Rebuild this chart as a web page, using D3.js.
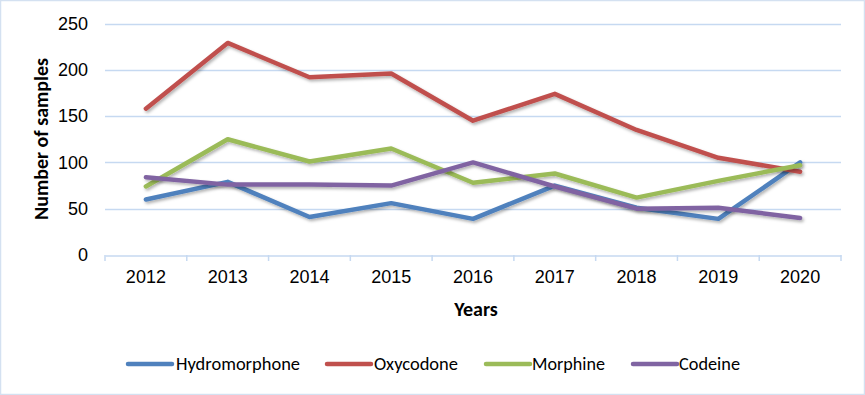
<!DOCTYPE html>
<html><head><meta charset="utf-8">
<script src="https://cdn.jsdelivr.net/npm/d3@7"></script>
<style>body{margin:0;background:#fff}svg{display:block;font-family:Carlito,Calibri,"Liberation Sans",Arial,sans-serif}</style>
</head><body><svg id="c" width="865" height="395"></svg>
<script>
const years = ["2012","2013","2014","2015","2016","2017","2018","2019","2020"];
const hydromorphone = [60,79,41,56,39,75,51,39,100];
const oxycodone = [158,229,192,196,145,174,135,105,90];
const morphine = [74,125,101,115,78,88,62,80,97];
const codeine = [84,76,76,75,100,74,50,51,40];
const yTicks = [0,50,100,150,200,250];
const seriesNames = ["Hydromorphone","Oxycodone","Morphine","Codeine"];
const colors = ["#4f81bd","#c0504d","#9bbb59","#8064a2"];
const seriesData = [hydromorphone, oxycodone, morphine, codeine];

const svg = d3.select("#c");
const defs = svg.append("defs");
const f = defs.append("filter").attr("id","sh").attr("x","-10%").attr("y","-20%").attr("width","120%").attr("height","150%");
f.append("feDropShadow").attr("dx",1.5).attr("dy",2).attr("stdDeviation",1.5).attr("flood-color","#000").attr("flood-opacity",0.3);

svg.append("rect").attr("x",0.5).attr("y",0.5).attr("width",864).attr("height",394)
  .attr("fill","#fff").attr("stroke","#d4e1f1").attr("stroke-width",1.5);

const x = d3.scaleBand().domain(years).range([105,841]);
const y = d3.scaleLinear().domain([0,250]).range([255,23.5]);
const gridC = "#c6d9f1";

svg.append("g").selectAll("line").data(yTicks.filter(d=>d>0)).join("line")
  .attr("x1",105).attr("x2",841).attr("y1",d=>Math.round(y(d))+0.5).attr("y2",d=>Math.round(y(d))+0.5)
  .attr("stroke",gridC).attr("stroke-width",1.5);

const xa = svg.append("g").attr("transform","translate(0,255.5)")
  .call(d3.axisBottom(x).tickSize(0).tickPadding(15));
xa.select(".domain").attr("stroke",gridC).attr("stroke-width",1.5);
xa.selectAll("text").attr("font-size",18).attr("fill","#000");
svg.append("g").selectAll("line").data(d3.range(years.length+1)).join("line")
  .attr("x1",i=>105+i*x.step()).attr("x2",i=>105+i*x.step())
  .attr("y1",255).attr("y2",261).attr("stroke",gridC).attr("stroke-width",1.5);

const ya = svg.append("g").attr("transform","translate(105,0)")
  .call(d3.axisLeft(y).tickValues(yTicks).tickSize(0).tickPadding(17));
ya.select(".domain").remove();
ya.selectAll("text").attr("font-size",18).attr("fill","#000");

svg.append("text").attr("transform","translate(48,139) rotate(-90)").attr("text-anchor","middle")
  .attr("font-size",20).attr("font-weight","bold").text("Number of samples");
svg.append("text").attr("x",476).attr("y",316).attr("text-anchor","middle")
  .attr("font-size",20).attr("font-weight","bold").text("Years");

const line = d3.line().x((d,i)=>x(years[i])+x.bandwidth()/2).y(d=>y(d));
svg.append("g").selectAll("path").data(seriesData).join("path")
  .attr("d",line).attr("fill","none").attr("stroke",(d,i)=>colors[i])
  .attr("stroke-width",4.5).attr("stroke-linejoin","round").attr("stroke-linecap","round")
  .attr("filter","url(#sh)");

const legX = [128,327,486,633];
const legTx = [176,374,532,679];
const legW = [124,84,73,61];
const lg = svg.append("g");
seriesNames.forEach((n,i)=>{
  lg.append("line").attr("x1",legX[i]).attr("x2",legX[i]+44).attr("y1",364).attr("y2",364)
    .attr("stroke",colors[i]).attr("stroke-width",4.5).attr("stroke-linecap","round");
  lg.append("text").attr("x",legTx[i]).attr("y",370).attr("font-size",18)
    .attr("textLength",legW[i]).attr("lengthAdjust","spacingAndGlyphs").text(n);
});
</script></body></html>
